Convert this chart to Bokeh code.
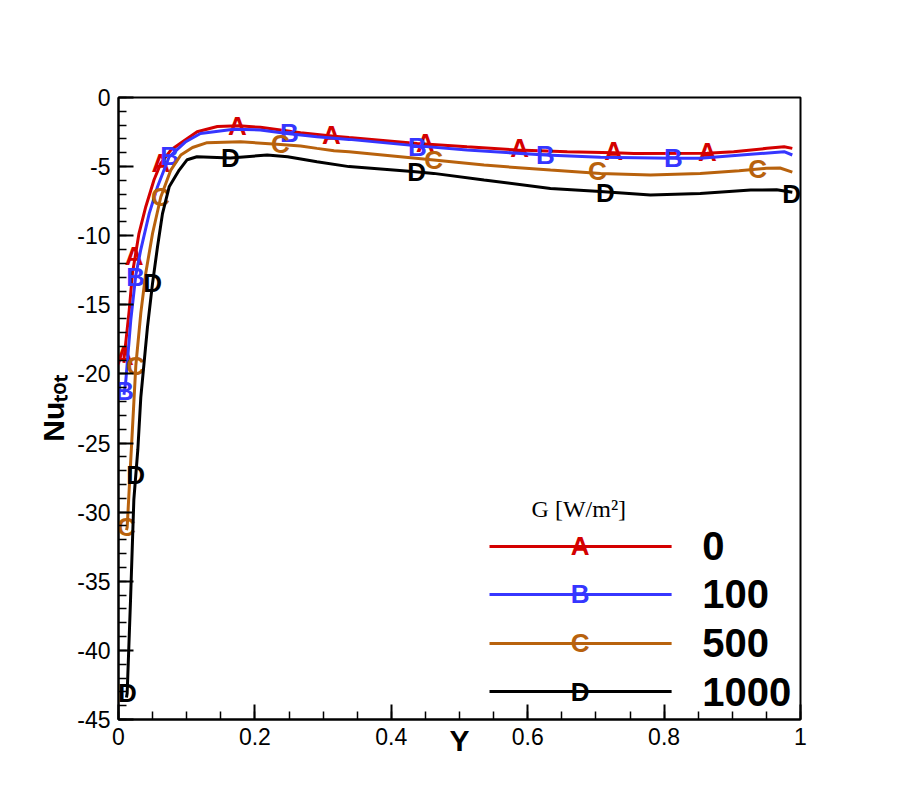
import math
from bokeh.plotting import figure
from bokeh.models import (Range1d, FixedTicker, CustomJSTickFormatter, Label,
                          ColumnDataSource)
from bokeh.core.properties import value
from bokeh.embed import file_html
from bokeh.resources import INLINE

# ---------------- data ----------------
labels = ["0", "100", "500", "1000"]
legend_title = "G [W/m\u00b2]"
y_title = "Nu\u209c\u2092\u209c"
x_title = "Y"
letters = ["A", "B", "C", "D"]
colors = ["#d40000", "#3636ff", "#b8620d", "#000000"]

x_g0 = [0.008, 0.0083, 0.0157, 0.0205, 0.030, 0.040, 0.052, 0.062, 0.0767, 0.094,
        0.1153, 0.145, 0.1764, 0.208, 0.267, 0.316, 0.338, 0.438, 0.511, 0.585,
        0.658, 0.726, 0.756, 0.863, 0.902, 0.951, 0.976, 0.988]
y_g0 = [-19.2, -18.8, -15.4, -12.7, -9.84, -7.9, -5.97, -4.77, -3.8, -3.2,
        -2.48, -2.1, -2.05, -2.16, -2.55, -2.8, -2.9, -3.32, -3.56, -3.8,
        -3.92, -4.0, -4.05, -4.04, -3.92, -3.68, -3.56, -3.68]

x_g100 = [0.008, 0.0107, 0.018, 0.0254, 0.0327, 0.045, 0.0572, 0.0743, 0.0987,
          0.1202, 0.169, 0.208, 0.247, 0.291, 0.338, 0.438, 0.511, 0.626, 0.7067,
          0.812, 0.853, 0.927, 0.976, 0.988]
y_g100 = [-21.5, -20.5, -16.1, -12.85, -11.0, -8.4, -6.46, -4.29, -3.2,
          -2.6, -2.3, -2.35, -2.6, -2.84, -3.03, -3.5, -3.8, -4.16, -4.33,
          -4.40, -4.4, -4.11, -3.92, -4.16]

x_g500 = [0.0117, 0.0127, 0.0254, 0.0327, 0.040, 0.0499, 0.062, 0.0767, 0.0914,
          0.1085, 0.130, 0.179, 0.2375, 0.267, 0.291, 0.316, 0.338, 0.4624, 0.536,
          0.6334, 0.7067, 0.78, 0.853, 0.91, 0.95, 0.97, 0.988]
y_g500 = [-31.3, -31.1, -19.4, -15.6, -12.7, -9.84, -7.2, -5.25, -4.16,
          -3.62, -3.27, -3.2, -3.40, -3.51, -3.68, -3.85, -3.92, -4.53, -4.89,
          -5.25, -5.5, -5.61, -5.49, -5.3, -5.12, -5.1, -5.4]

x_g1000 = [0.0117, 0.0127, 0.0176, 0.0225, 0.0283, 0.0327, 0.0425, 0.0499, 0.0572,
           0.0645, 0.0743, 0.089, 0.1007, 0.115, 0.164, 0.218, 0.248, 0.291, 0.338,
           0.4355, 0.462, 0.536, 0.6334, 0.7067, 0.78, 0.853, 0.927, 0.965, 0.988]
y_g1000 = [-43.4, -43.1, -36.4, -29.1, -25.5, -21.7, -16.6, -13.45, -10.8,
           -8.4, -6.46, -5.25, -4.5, -4.29, -4.38, -4.16, -4.29, -4.65, -5.0,
           -5.37, -5.49, -5.97, -6.58, -6.8, -7.06, -6.94, -6.7, -6.68, -6.85]

# symbol (letter) positions along each curve
mx_g0 = [0.0088, 0.023, 0.062, 0.1745, 0.3123, 0.450, 0.588, 0.726, 0.8636]
my_g0 = [-18.7, -11.5, -4.77, -2.05, -2.72, -3.32, -3.66, -3.9, -3.95]
mx_g100 = [0.009, 0.025, 0.0748, 0.2507, 0.4384, 0.626, 0.8138]
my_g100 = [-21.2, -13.0, -4.2, -2.6, -3.55, -4.16, -4.4]
mx_g500 = [0.0117, 0.025, 0.0616, 0.2375, 0.462, 0.7023, 0.937]
my_g500 = [-31.1, -19.4, -7.2, -3.4, -4.53, -5.35, -5.15]
mx_g1000 = [0.0132, 0.025, 0.0499, 0.164, 0.437, 0.714, 0.987]
my_g1000 = [-43.1, -27.3, -13.45, -4.38, -5.39, -6.9, -7.0]

series_x = [x_g0, x_g100, x_g500, x_g1000]
series_y = [y_g0, y_g100, y_g500, y_g1000]
marks_x = [mx_g0, mx_g100, mx_g500, mx_g1000]
marks_y = [my_g0, my_g100, my_g500, my_g1000]

x_ticks = [0, 0.2, 0.4, 0.6, 0.8, 1.0]
y_ticks = [0, -5, -10, -15, -20, -25, -30, -35, -40, -45]

# ---------------- figure ----------------
FONT = "Liberation Sans"
p = figure(width=902, height=801, output_backend="svg", toolbar_location=None,
           x_range=Range1d(0, 1), y_range=Range1d(-45, 0),
           min_border_left=118, min_border_right=102,
           min_border_top=97, min_border_bottom=82)
p.background_fill_color = "white"
p.border_fill_color = "white"
p.outline_line_color = "black"
p.outline_line_width = 2
p.xgrid.visible = False
p.ygrid.visible = False

fmt = CustomJSTickFormatter(code="return Number(tick.toFixed(2)).toString();")
p.xaxis.ticker = FixedTicker(ticks=x_ticks,
                             minor_ticks=[i * 0.05 for i in range(21)])
p.yaxis.ticker = FixedTicker(ticks=y_ticks, minor_ticks=list(range(-45, 1)))
for ax in (p.xaxis, p.yaxis):
    ax.formatter = fmt
    ax.axis_line_color = "black"
    ax.axis_line_width = 2
    ax.major_tick_in = 15
    ax.major_tick_out = 0
    ax.minor_tick_in = 8
    ax.minor_tick_out = 0
    ax.major_tick_line_width = 2
    ax.minor_tick_line_width = 1.5
    ax.major_tick_line_color = "black"
    ax.minor_tick_line_color = "black"
    ax.major_label_text_font = FONT
    ax.major_label_text_font_size = "23px"
    ax.major_label_text_color = "black"
    ax.major_label_standoff = 8
    ax.axis_label_text_font = FONT
    ax.axis_label_text_font_style = "bold"
    ax.axis_label_text_color = "black"

# axis titles
p.xaxis.axis_label = x_title
p.xaxis.axis_label_text_font_size = "30px"
p.xaxis.axis_label_standoff = -24
p.yaxis.axis_label = y_title
p.yaxis.axis_label_text_font_size = "30px"
p.yaxis.axis_label_standoff = 4

# curves
for xs, ys, mxs, mys, col, let in zip(series_x, series_y, marks_x, marks_y,
                                       colors, letters):
    p.line(xs, ys, line_color=col, line_width=3)
    src = ColumnDataSource(dict(x=mxs, y=mys, t=[let] * len(mxs)))
    p.text(x="x", y="y", text="t", source=src, text_color=col,
           text_font=value(FONT), text_font_style="bold",
           text_font_size="26px", text_align="center", text_baseline="middle")

# legend (drawn by hand, Tecplot style)
leg_y = [-32.48, -35.95, -39.5, -42.98]
p.add_layout(Label(x=0.675, y=-29.75, text=legend_title,
                   text_font="Liberation Serif", text_font_size="24px",
                   text_align="center", text_baseline="middle",
                   text_color="black"))
for ly, col, let, lab in zip(leg_y, colors, letters, labels):
    p.line([0.544, 0.811], [ly, ly], line_color=col, line_width=3)
    p.text(x=[0.677], y=[ly], text=[let], text_color=col,
           text_font=value(FONT), text_font_style="bold",
           text_font_size="26px", text_align="center", text_baseline="middle")
    p.add_layout(Label(x=0.856, y=ly, text=lab, text_font=FONT,
                       text_font_style="bold", text_font_size="40px",
                       text_align="left", text_baseline="middle",
                       text_color="black"))

open("out.html", "w").write(file_html(p, INLINE))
